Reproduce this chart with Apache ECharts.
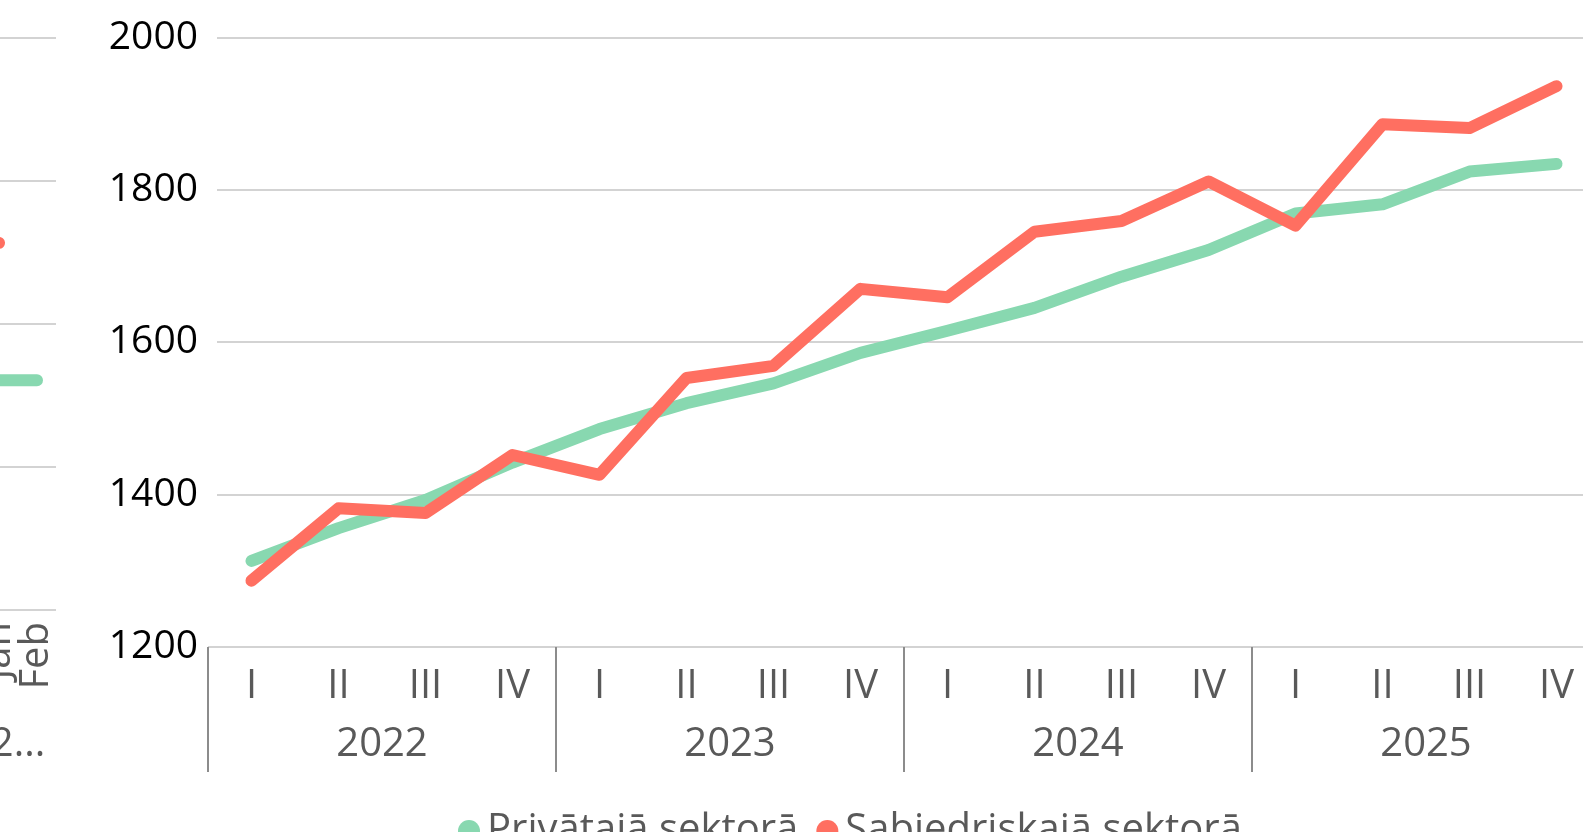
<!DOCTYPE html>
<html>
<head>
<meta charset="utf-8">
<script src="https://cdn.jsdelivr.net/npm/echarts@6/dist/echarts.min.js"></script>
<style>
  html, body { margin: 0; padding: 0; background: #fff; }
  #chart { width: 1583px; height: 832px; }
</style>
</head>
<body>
<div id="chart"></div>
<script>
// main chart: quarterly values
const quarters = ['I', 'II', 'III', 'IV', 'I', 'II', 'III', 'IV', 'I', 'II', 'III', 'IV', 'I', 'II', 'III', 'IV'];
const years = ['2022', '2023', '2024', '2025'];
const privateSector = [1313, 1356, 1393, 1442, 1486, 1520, 1546, 1586, 1615, 1645, 1686, 1721, 1769, 1781, 1824, 1834];
const publicSector = [1287, 1382, 1376, 1452, 1426, 1553, 1569, 1670, 1659, 1745, 1759, 1811, 1753, 1886, 1881, 1936];
const yTicks = [1200, 1400, 1600, 1800, 2000];

// the cut-off chart on the far left (only its last months show)
const leftMonths = ['Nov', 'Dec', 'Jan', 'Feb'];
const leftYears = ['2025', '2...'];
const leftPrivate = [1525, 1522, 1521, 1521];
const leftPublic = [1700, 1708, 1713, null];

const names = ['Privātajā sektorā', 'Sabiedriskajā sektorā'];
const green = '#88D8B0';
const red = '#FF6F61';
const font = '"Open Sans", "Noto Sans", sans-serif';

let myChart = echarts.init(document.getElementById('chart'));

let option = {
    animation: false,
    textStyle: { fontFamily: font },
    grid: [
        { left: 208, width: 1392, top: 37.4, bottom: 185, outerBoundsMode: 'none' },
        { left: -96, width: 152, top: 37.4, bottom: 222, outerBoundsMode: 'none' }
    ],
    legend: {
        data: names,
        left: 453,
        top: 806,
        icon: 'circle',
        itemWidth: 26,
        itemHeight: 22,
        itemGap: 18,
        textStyle: { fontSize: 40, color: '#595959', fontFamily: font }
    },
    xAxis: [
        {
            type: 'category',
            gridIndex: 0,
            data: quarters,
            axisLine: { show: false },
            axisTick: { show: false },
            axisLabel: { interval: 0, margin: 20, fontSize: 40, color: '#595959', lineHeight: 40 }
        },
        {
            type: 'category',
            gridIndex: 0,
            data: years,
            position: 'bottom',
            axisLine: { show: false },
            axisTick: { show: true, interval: 0, length: 125, lineStyle: { color: '#8c8c8c', width: 2 } },
            axisLabel: { interval: 0, margin: 78, fontSize: 40, color: '#595959', lineHeight: 40 }
        },
        {
            type: 'category',
            gridIndex: 1,
            data: leftMonths,
            axisLine: { show: false },
            axisTick: { show: false },
            axisLabel: { interval: 0, rotate: 90, margin: 12, fontSize: 40, color: '#595959' }
        },
        {
            type: 'category',
            gridIndex: 1,
            data: leftYears,
            position: 'bottom',
            axisLine: { show: false },
            axisTick: { show: false },
            axisLabel: { interval: 0, margin: 115, fontSize: 40, color: '#595959', lineHeight: 40 }
        }
    ],
    yAxis: [
        {
            type: 'value',
            gridIndex: 0,
            min: yTicks[0],
            max: yTicks[yTicks.length - 1],
            interval: 200,
            axisLine: { show: false },
            axisTick: { show: false },
            axisLabel: { margin: 10, fontSize: 39, color: '#000', formatter: v => String(v), padding: [4, 0, 0, 0] },
            splitLine: { lineStyle: { color: '#c4c4c4', width: 1.5 } }
        },
        {
            type: 'value',
            gridIndex: 1,
            min: yTicks[0],
            max: yTicks[yTicks.length - 1],
            interval: 200,
            axisLine: { show: false },
            axisTick: { show: false },
            axisLabel: { show: false },
            splitLine: { lineStyle: { color: '#c4c4c4', width: 1.5 } }
        }
    ],
    graphic: [
        // gridlines start a little right of the year separators
        { type: 'rect', z: 1, shape: { x: 207, y: 30, width: 10, height: 615 }, style: { fill: '#fff' } }
    ],
    series: [
        {
            name: names[0], type: 'line', xAxisIndex: 0, yAxisIndex: 0,
            data: privateSector, showSymbol: false, z: 3,
            itemStyle: { color: green },
            lineStyle: { color: green, width: 12, cap: 'round', join: 'round' }
        },
        {
            name: names[1], type: 'line', xAxisIndex: 0, yAxisIndex: 0,
            data: publicSector, showSymbol: false, z: 4,
            itemStyle: { color: red },
            lineStyle: { color: red, width: 12, cap: 'round', join: 'round' }
        },
        {
            name: names[0], type: 'line', xAxisIndex: 2, yAxisIndex: 1,
            data: leftPrivate, showSymbol: false, z: 3,
            itemStyle: { color: green },
            lineStyle: { color: green, width: 12, cap: 'round', join: 'round' }
        },
        {
            name: names[1], type: 'line', xAxisIndex: 2, yAxisIndex: 1,
            data: leftPublic, showSymbol: false, z: 4,
            itemStyle: { color: red },
            lineStyle: { color: red, width: 12, cap: 'round', join: 'round' }
        }
    ]
};
myChart.setOption(option);
</script>
</body>
</html>
